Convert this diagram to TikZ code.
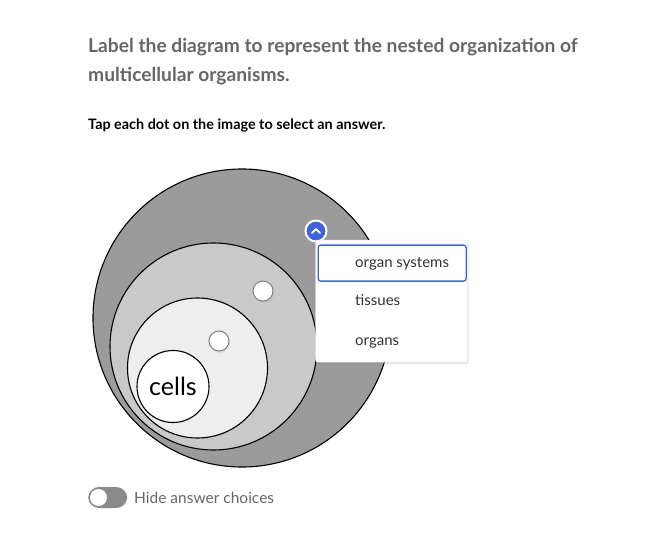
\documentclass[tikz,border=0pt]{standalone}
\usepackage{fontspec}
\setmainfont{Lato}
\usetikzlibrary{shadows}

\definecolor{titlegray}{HTML}{666666}
\definecolor{textdark}{HTML}{333333}
\definecolor{outerfill}{HTML}{9B9B9B}
\definecolor{midfill}{HTML}{C9C9C9}
\definecolor{innerfill}{HTML}{EEEEEE}
\definecolor{selblue}{HTML}{3D63DD}
\definecolor{togglegray}{HTML}{8A8A8A}

\begin{document}
\begin{tikzpicture}[x=1pt,y=-1pt,
    ring/.style={circle, draw=black, line width=1.1pt, inner sep=0pt},
    hotspot/.style={circle, draw=gray, line width=1pt, fill=white, inner sep=0pt, minimum size=20pt},
    choice/.style={anchor=base west, inner sep=0pt, font=\fontsize{15}{18}\selectfont, text=textdark}]
    \useasboundingbox (0,0) rectangle (645,534);

    % Draw the heading
    \node[anchor=base west, font=\fontsize{19.2}{23}\selectfont\bfseries, text=titlegray, inner sep=0pt] (title1) at (88,53) {Label the diagram to represent the nested organization of};
    \node[anchor=base west, font=\fontsize{19.2}{23}\selectfont\bfseries, text=titlegray, inner sep=0pt] (title2) at (88,82) {multicellular organisms.};
    \node[anchor=base west, font=\fontsize{14.4}{17}\selectfont\bfseries, inner sep=0pt] (hint) at (88,130) {Tap each dot on the image to select an answer.};

    % Draw the nested circles
    \node[ring, fill=outerfill, minimum size=298pt] (organsys) at (242,318) {};
    \node[ring, fill=midfill, minimum size=207pt] (organs) at (213.5,346.5) {};
    \node[ring, fill=innerfill, minimum size=140pt] (tissues) at (197.5,368) {};
    \node[ring, fill=white, minimum size=72pt, font=\fontsize{25}{28}\selectfont] (cells) at (173,386.5) {cells};

    % Add the dots
    \node[hotspot, drop shadow={shadow xshift=1pt, shadow yshift=-2pt, opacity=0.15}] (dotA) at (263,291) {};
    \node[hotspot, drop shadow={shadow xshift=1pt, shadow yshift=-2pt, opacity=0.15}] (dotB) at (219,341) {};
    \node[circle, fill=selblue, draw=white, line width=2pt, inner sep=0pt, minimum size=21pt] (dotC) at (316,231) {};
    \draw[white, line width=2pt, line cap=round, line join=round] ([shift={(-4,2)}]dotC.center) -- ([shift={(0,-2)}]dotC.center) -- ([shift={(4,2)}]dotC.center);

    % Draw the answer menu
    \node[draw=black!10, fill=white, rounded corners=2pt, anchor=north west, minimum width=152pt, minimum height=122pt,
          drop shadow={shadow xshift=1pt, shadow yshift=-2pt, opacity=0.2}] (menu) at (315.5,240) {};
    \node[draw=selblue, line width=1.3pt, rounded corners=2.5pt, anchor=north west, minimum width=148pt, minimum height=36pt] (selbox) at (317.5,244.5) {};
    \node[choice] (optA) at (355,268) {organ systems};
    \node[choice] (optB) at (355,306) {tissues};
    \node[choice] (optC) at (355,345) {organs};

    % Draw the toggle
    \node[fill=togglegray, rounded corners=11pt, anchor=west, minimum width=39pt, minimum height=21pt, inner sep=0pt] (toggle) at (88,497.5) {};
    \node[circle, fill=white, inner sep=0pt, minimum size=17pt] (knob) at (98.5,497.5) {};
    \node[anchor=base west, font=\fontsize{15.5}{18}\selectfont, text=titlegray, inner sep=0pt] (hide) at (134,503) {Hide answer choices};
\end{tikzpicture}
\end{document}
